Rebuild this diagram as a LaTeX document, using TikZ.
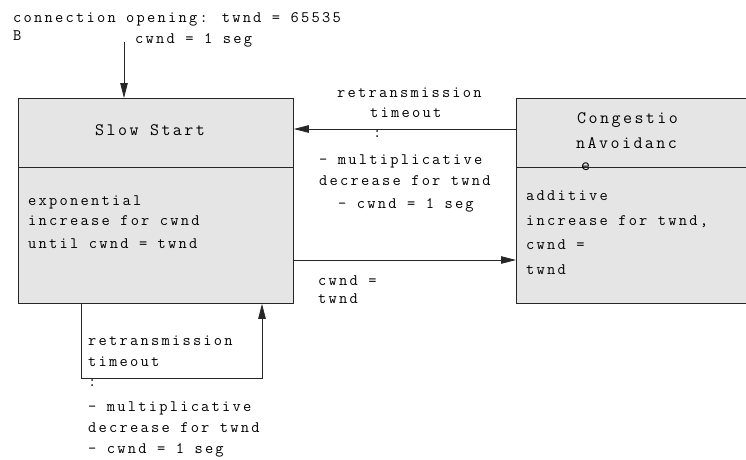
\documentclass[tikz,border=0pt]{standalone}
\usepackage{fontspec}
\usetikzlibrary{arrows.meta}
\newfontfamily\dfont[LetterSpace=14]{Latin Modern Mono}
\begin{document}
\begin{tikzpicture}[x=1pt,y=-1pt,
  box/.style={draw=black!85, line width=0.8pt, fill=black!10, inner sep=0pt, anchor=north west},
  txt/.style={anchor=base west, inner sep=0pt, font=\dfont\fontsize{16}{18}\selectfont, text=black},
  ttl/.style={txt, font=\dfont\fontsize{17.5}{20}\selectfont},
  conn/.style={draw=black!85, line width=0.8pt},
  arr/.style={conn, -{Triangle[length=15pt,width=7.5pt]}}]
\useasboundingbox (0,0) rectangle (746,459);
\clip (0,0) rectangle (746,459);
% boxes
\node[box, minimum width=275pt, minimum height=69pt] (ss) at (18,98) {};
\node[box, minimum width=275pt, minimum height=136pt] (ssb) at (18,167) {};
\node[box, minimum width=250pt, minimum height=69pt] (ca) at (516,98) {};
\node[box, minimum width=250pt, minimum height=136pt] (cab) at (516,167) {};
% texts
\node[txt] (t1) at (13,22) {connection opening: twnd = 65535};
\node[txt] (t2) at (13,40) {B};
\node[txt] (t3) at (135,43) {cwnd = 1 seg};
\node[ttl] (s1) at (95,135) {Slow Start};
\node[txt] (s2) at (28,205) {exponential};
\node[txt] (s3) at (28,225) {increase for cwnd};
\node[txt] (s4) at (28,248) {until cwnd = twnd};
\node[txt] (r1) at (337,97) {retransmission};
\node[txt] (r2) at (370,117) {timeout};
\node[txt] (r3) at (373,137) {:};
\node[txt] (r4) at (319,164) {- multiplicative};
\node[txt] (r5) at (319,185) {decrease for twnd};
\node[txt] (r6) at (338,208) {- cwnd = 1 seg};
\node[ttl] (c1) at (577,123) {Congestio};
\node[ttl] (c2) at (576,148) {nAvoidanc};
\node[ttl] (c3) at (581,170) {e};
\node[txt] (c4) at (526,200) {additive};
\node[txt] (c5) at (526,225) {increase for twnd,};
\node[txt] (c6) at (526,249) {cwnd =};
\node[txt] (c7) at (526,274) {twnd};
\node[txt] (w1) at (318,285) {cwnd =};
\node[txt] (w2) at (318,303) {twnd};
\node[txt] (b1) at (88,345) {retransmission};
\node[txt] (b2) at (88,366) {timeout};
\node[txt] (b3) at (88,386) {:};
\node[txt] (b4) at (88,411) {- multiplicative};
\node[txt] (b5) at (88,432) {decrease for twnd};
\node[txt] (b6) at (88,453) {- cwnd = 1 seg};
% connectors
\coordinate (top) at (124,42);
\draw[arr] (top) -- (top |- ss.north);
\coordinate (ry) at (0,129);
\draw[arr] (ca.west |- ry) -- (ss.east |- ry);
\coordinate (cy) at (0,260);
\draw[arr] (ssb.east |- cy) -- (cab.west |- cy);
\coordinate (l1) at (81,378);
\coordinate (l2) at (262,378);
\draw[arr] (l1 |- ssb.south) -- (l1) -- (l2) -- (l2 |- ssb.south);
\end{tikzpicture}
\end{document}
